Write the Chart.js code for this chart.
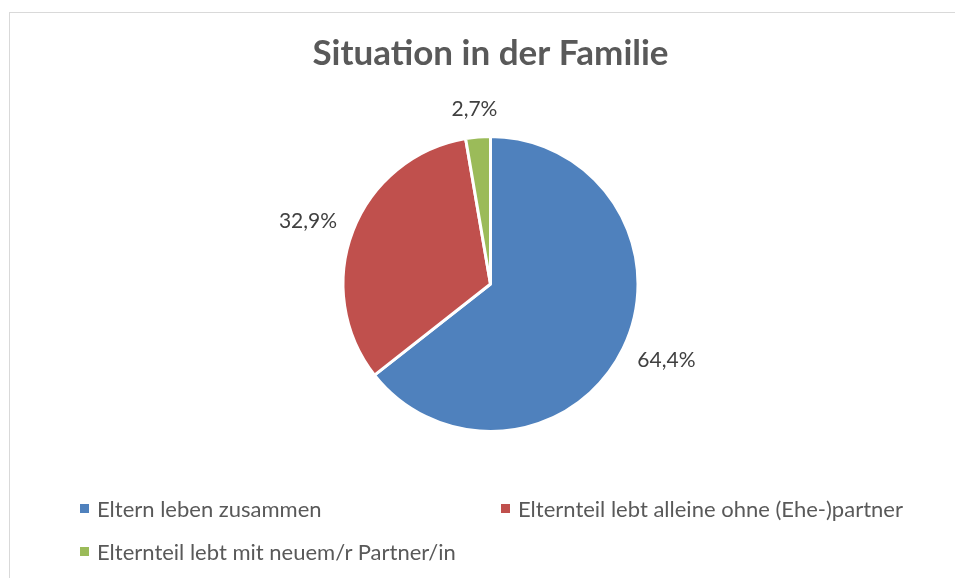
<!DOCTYPE html>
<html lang="de">
<head>
<meta charset="utf-8">
<title>Situation in der Familie</title>
<script src="https://cdn.jsdelivr.net/npm/chart.js@4.4.0/dist/chart.umd.min.js"></script>
<style>
    html, body { margin: 0; padding: 0; background: #fff; }
    #wrap { position: relative; width: 955px; height: 578px; overflow: hidden; font-family: Lato, "Open Sans", sans-serif; }
    #frame { position: absolute; left: 9px; top: 12px; width: 980px; height: 600px; border: 1px solid #d9d9d9; box-sizing: border-box; }
    #pieChart { position: absolute; left: 0; top: 0; }
    .legend-item { position: absolute; font-size: 22px; color: #595959; white-space: nowrap; line-height: 1; }
    .legend-item span.box { position: absolute; width: 9px; height: 9px; left: -17px; top: 6px; }
</style>
</head>
<body>
<div id="wrap">
    <div id="frame"></div>
    <canvas id="pieChart" width="955" height="578"></canvas>
    <div id="legend"></div>
</div>
<script>
// Daten
const kategorien = [
    'Eltern leben zusammen',
    'Elternteil lebt alleine ohne (Ehe-)partner',
    'Elternteil lebt mit neuem/r Partner/in'
];
const anteile = [64.4, 32.9, 2.7];
const farben = ['#4F81BD', '#C0504D', '#9BBB59'];

// Legendenpositionen (Excel-Raster: 2 Spalten)
const legendPos = [
    { left: 97, top: 498 },
    { left: 518, top: 498 },
    { left: 97, top: 541 }
];

// Prozent mit Komma
function formatPct(v) {
    return v.toFixed(1).replace('.', ',') + '%';
}

// Labels außerhalb der Segmente
const outsideLabels = {
    id: 'outsideLabels',
    afterDatasetsDraw(chart) {
        const ctx = chart.ctx;
        const meta = chart.getDatasetMeta(0);
        const gap = 19;
        ctx.save();
        ctx.font = '21px Lato, "Open Sans", sans-serif';
        ctx.fillStyle = '#404040';
        ctx.textAlign = 'center';
        ctx.textBaseline = 'middle';
        meta.data.forEach((arc, i) => {
            const p = arc.getProps(['x', 'y', 'startAngle', 'endAngle', 'outerRadius'], true);
            const mid = (p.startAngle + p.endAngle) / 2;
            const cos = Math.cos(mid), sin = Math.sin(mid);
            const text = formatPct(chart.data.datasets[0].data[i]);
            const w = ctx.measureText(text).width;
            const h = 17;
            const px = p.x + cos * (p.outerRadius + gap);
            const py = p.y + sin * (p.outerRadius + gap);
            ctx.fillText(text, px + cos * w / 2, py + sin * h / 2);
        });
        ctx.restore();
    }
};

function buildLegend() {
    const el = document.getElementById('legend');
    el.innerHTML = kategorien.map((name, i) => `
        <div class="legend-item" style="left:${legendPos[i].left}px;top:${legendPos[i].top}px">
            <span class="box" style="background:${farben[i]}"></span>${name}
        </div>
    `).join('');
}

function drawChart() {
    const ctx = document.getElementById('pieChart');
    new Chart(ctx, {
        type: 'pie',
        data: {
            labels: kategorien,
            datasets: [{
                data: anteile,
                backgroundColor: farben,
                borderColor: '#ffffff',
                borderWidth: 3
            }]
        },
        options: {
            responsive: false,
            animation: false,
            layout: {
                padding: { top: 0, bottom: 145, left: 299, right: 273 }
            },
            plugins: {
                legend: { display: false },
                tooltip: { enabled: false },
                title: {
                    display: true,
                    text: 'Situation in der Familie',
                    color: '#595959',
                    font: { family: 'Lato, "Open Sans", sans-serif', size: 35, weight: 'bold', lineHeight: 1.2 },
                    padding: { top: 33, bottom: 60 }
                }
            }
        },
        plugins: [outsideLabels]
    });
}

document.addEventListener('DOMContentLoaded', function() {
    buildLegend();
    drawChart();
});
</script>
</body>
</html>
